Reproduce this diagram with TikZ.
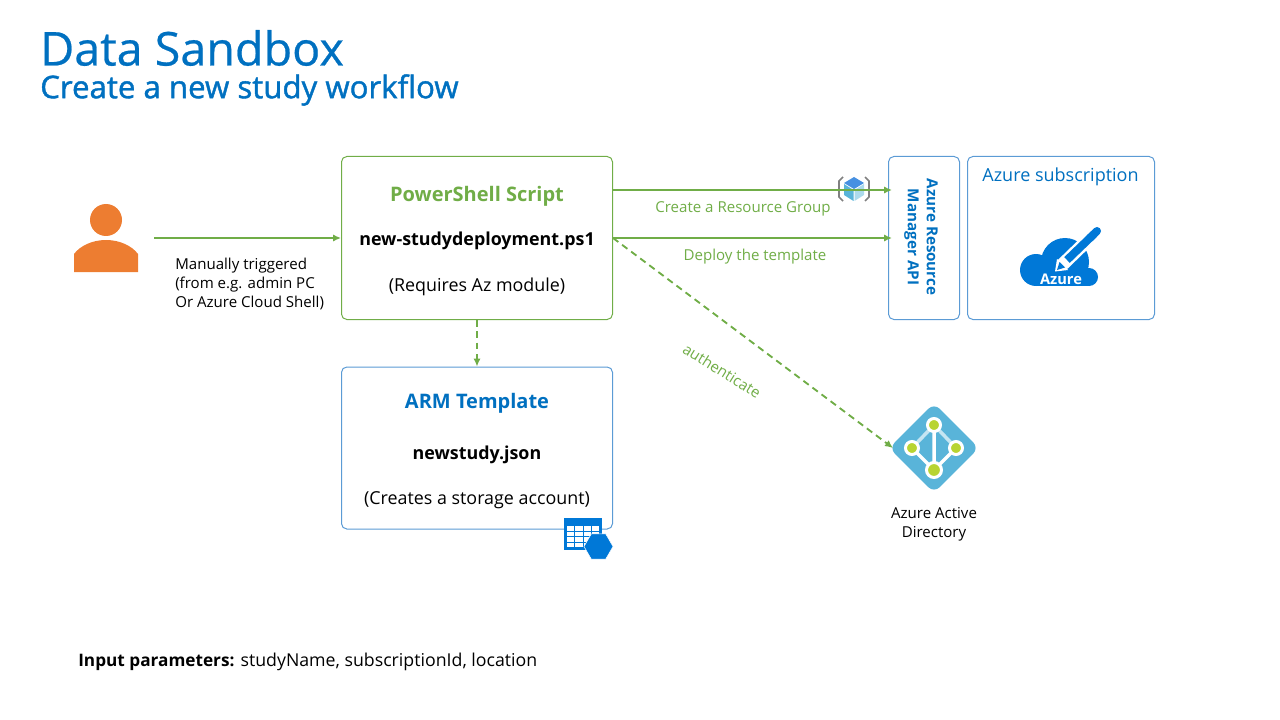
\documentclass[tikz,border=0pt]{standalone}
\usepackage{fontspec}
\setmainfont{Open Sans}
\newfontfamily\medfont[FakeBold=0.5]{Open Sans}
\newfontfamily\semifont[FakeBold=1.3]{Open Sans}
\usetikzlibrary{arrows.meta,positioning,calc,shapes.geometric}
\newcommand{\px}{0.75pt}
\definecolor{titleblue}{HTML}{0070C0}
\definecolor{boxblue}{HTML}{5B9BD5}
\definecolor{flow}{HTML}{70AD47}
\definecolor{userorange}{HTML}{ED7D31}
\definecolor{azureblue}{HTML}{0078D7}
\definecolor{aadblue}{HTML}{59B4D9}
\definecolor{aaddot}{HTML}{B8D432}
\tikzset{box/.style={draw=#1,rounded corners=4pt,line width=0.75pt,fill=white},box/.default=boxblue,arrow/.style={-{Latex[length=6pt,width=5.5pt]},flow,line width=1.4pt},dasharrow/.style={arrow,dash pattern=on 5pt off 3.5pt},lab/.style={font=\fontsize{13.4}{16}\selectfont,inner sep=0pt,align=center},flowlab/.style={lab,text=flow,font=\fontsize{11.3}{13}\selectfont},small/.style={lab,font=\fontsize{11.3}{14.5}\selectfont},boxtitle/.style={lab,font=\bfseries\fontsize{15}{18}\selectfont},filelab/.style={lab,font=\bfseries\fontsize{13.4}{16}\selectfont}}

\begin{document}
\begin{tikzpicture}[x=\px,y=-\px]
\useasboundingbox (0,0) rectangle (1280,720);
% headings
\node[anchor=west,inner sep=0pt,text=titleblue,font=\medfont\fontsize{35}{40}\selectfont] (title) at (40,48) {Data Sandbox};
\node[anchor=west,inner sep=0pt,text=titleblue,font=\semifont\fontsize{23.4}{26}\selectfont] (subtitle) at (40,90) {Create a new study workflow};
% boxes
\node[box=flow,minimum width=271*\px,minimum height=163*\px] (script) at (477,238) {};
\node[box,minimum width=271*\px,minimum height=162*\px] (arm) at (477,448) {};
\node[box,minimum width=71*\px,minimum height=163*\px] (api) at (924,238) {};
\node[box,minimum width=187*\px,minimum height=163*\px] (sub) at (1061,238) {};
% box texts
\node[boxtitle,text=flow] (scriptname) at (477,196) {PowerShell Script};
\node[filelab] (scriptfile) at (477,241) {new-studydeployment.ps1};
\node[lab] (scriptnote) at (477,287) {(Requires Az module)};
\node[boxtitle,text=titleblue] (armname) at (477,403) {ARM Template};
\node[filelab] (armfile) at (477,455) {newstudy.json};
\node[lab] (armnote) at (477,500) {(Creates a storage account)};
\node[lab,rotate=-90,text=titleblue,font=\bfseries\fontsize{11.4}{14.25}\selectfont] (apiname) at (921,237) {Azure Resource\\Manager API};
\node[lab,text=titleblue,font=\fontsize{13.5}{16}\selectfont] (subname) at (1060.5,177) {Azure subscription};
% user
\fill[userorange] (106,220) circle (16);
\fill[userorange] (74,272) -- (74,254) .. controls (80,246) and (92,240) .. (106,240) .. controls (120,240) and (132,246) .. (138,254) -- (138,272) -- cycle;
% resource group icon
\draw[gray,line width=1.2pt] (843,177) -- (839,181) -- (839,197) -- (843,201) (865,177) -- (869,181) -- (869,197) -- (865,201);
\fill[aadblue!80!blue] (854,177) -- (864,183) -- (854,189) -- (844,183) -- cycle;
\fill[aadblue] (844,184) -- (853.5,190) -- (853.5,201) -- (844,195) -- cycle;
\fill[aadblue!50!white] (864,184) -- (854.5,190) -- (854.5,201) -- (864,195) -- cycle;
% subscription icon
\fill[azureblue] (1036,270) circle (16);
\fill[azureblue] (1065,262) circle (24);
\fill[azureblue] (1089,277) circle (9);
\fill[azureblue] (1036,270) -- (1089,270) -- (1089,286) -- (1036,286) -- cycle;
\draw[white,line width=13*\px] (1062,265) -- (1094,234);
\fill[white] (1055,271.5) -- (1057,259) -- (1068,270) -- cycle;
\draw[azureblue,line width=8*\px] (1067,260) -- (1094,234);
\draw[azureblue,line width=8*\px,line cap=round] (1090,238) -- (1097,231);
\fill[azureblue] (1057,270) -- (1059.5,262) -- (1065,267.5) -- cycle;
\node[lab,text=white,font=\bfseries\fontsize{11}{12}\selectfont] (azurelogo) at (1061,279) {Azure};
% storage icon
\fill[azureblue] (564,518) rectangle (602,550);
\foreach \tx in {567,575.3,583.6,592}{\foreach \ty in {526,531.5,537,542.5}{\fill[white] (\tx,\ty) rectangle ++(7.3,4.5);}}
\node[regular polygon,regular polygon sides=6,fill=azureblue,draw=white,line width=0.4pt,minimum size=29*\px,inner sep=0pt] (hexicon) at (598.5,546.5) {};
% directory icon
\node[diamond,aspect=1,fill=aadblue,rounded corners=6pt,minimum size=90*\px,inner sep=0pt] (aad) at (934,448) {};
\draw[white!65!aadblue,line width=3.5*\px] (934,425) -- (912,448) (934,425) -- (956,448);
\draw[white,line width=3.5*\px] (934,425) -- (934,470) (912,448) -- (934,470) -- (956,448);
\foreach \dx/\dy/\dr in {934/425/6.5,912/448/6.5,956/448/6.5,934/470/7.5}{\fill[aaddot,draw=white,line width=3*\px] (\dx,\dy) circle (\dr);}
\node[small] (aadname) at (934,524) {Azure Active\\Directory};
% connectors
\coordinate (userout) at (154,238);
\coordinate (rgout) at (613,190);
\coordinate (rgin) at (892,190);
\coordinate (deployin) at (892,238);
\coordinate (aadin) at (893,448);
\draw[arrow] (userout) -- (script.west);
\draw[arrow] (rgout) -- (rgin);
\draw[arrow] (script.east) -- (deployin);
\draw[dasharrow] (script.south) -- (arm.north);
\draw[dasharrow] (script.east) -- (aadin);
% connector labels
\node[small,anchor=west,align=left] (trigger) at (175,284) {Manually triggered\\(from e.g. admin PC\\Or Azure Cloud Shell)};
\node[flowlab] (rglab) at (743,209) {Create a Resource Group};
\node[flowlab] (deploylab) at (755,257) {Deploy the template};
\node[flowlab,rotate=-32] (authlab) at (722,371) {authenticate};
% footer
\node[anchor=west,inner sep=0pt,font=\fontsize{13.3}{16}\selectfont] (params) at (78,662) {{\bfseries\fontsize{12.9}{16}\selectfont Input parameters:} studyName, subscriptionId, location};
\end{tikzpicture}
\end{document}
